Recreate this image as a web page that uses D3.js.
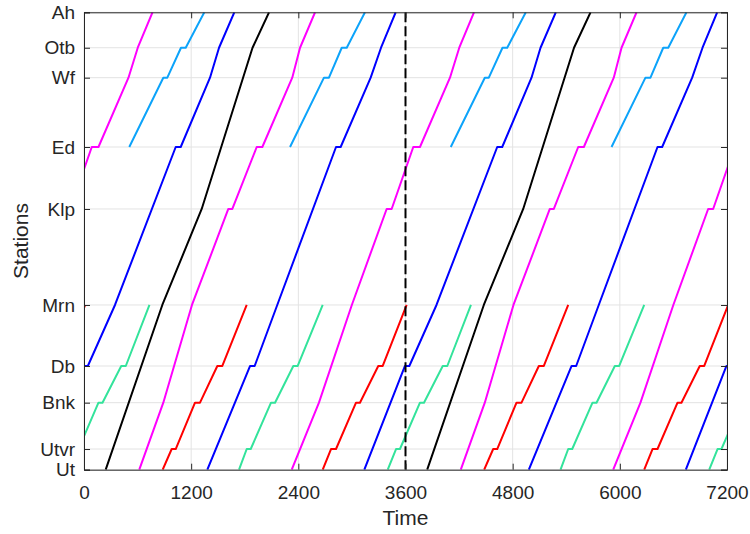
<!DOCTYPE html>
<html>
<head>
<meta charset="utf-8">
<script src="https://cdn.jsdelivr.net/npm/d3@7"></script>
<style>
  body { margin: 0; background: #fff; }
  text { font-family: "Liberation Sans", Arial, sans-serif; fill: #262626; }
</style>
</head>
<body>
<div id="chart"></div>
<script>
// stations (bottom to top) and their position along the line
const stations = ['Ut', 'Utvr', 'Bnk', 'Db', 'Mrn', 'Klp', 'Ed', 'Wf', 'Otb', 'Ah'];
const stationKm = [0, 2.79, 9.04, 13.99, 22.22, 35.17, 43.53, 52.88, 56.92, 61.7];
const timeTicks = [0, 1200, 2400, 3600, 4800, 6000, 7200];
const markerTime = 3600;

// each run: list of [station, time in s]; a station twice = dwell
const blackRuns = [
    [['Ut', 243], ['Mrn', 877], ['Klp', 1318], ['Otb', 1887], ['Ah', 2072]],
    [['Ut', 3843], ['Mrn', 4477], ['Klp', 4918], ['Otb', 5487], ['Ah', 5672]]
];
const magentaRuns = [
    [['Ut', -1274], ['Bnk', -969], ['Mrn', -601], ['Klp', -211], ['Klp', -155], ['Ed', 87], ['Ed', 162], ['Wf', 498], ['Otb', 602], ['Ah', 767]],
    [['Ut', 619], ['Bnk', 888], ['Mrn', 1209], ['Klp', 1616], ['Klp', 1661], ['Ed', 1934], ['Ed', 1997], ['Wf', 2332], ['Otb', 2419], ['Ah', 2587]],
    [['Ut', 2326], ['Bnk', 2631], ['Mrn', 2999], ['Klp', 3389], ['Klp', 3445], ['Ed', 3687], ['Ed', 3762], ['Wf', 4098], ['Otb', 4202], ['Ah', 4367]],
    [['Ut', 4219], ['Bnk', 4488], ['Mrn', 4809], ['Klp', 5216], ['Klp', 5261], ['Ed', 5534], ['Ed', 5597], ['Wf', 5932], ['Otb', 6019], ['Ah', 6187]],
    [['Ut', 5926], ['Bnk', 6231], ['Mrn', 6599], ['Klp', 6989], ['Klp', 7045], ['Ed', 7287], ['Ed', 7362], ['Wf', 7698], ['Otb', 7802], ['Ah', 7967]]
];
const lightBlueRuns = [
    [['Ed', 507], ['Wf', 888], ['Wf', 933], ['Otb', 1086], ['Otb', 1139], ['Ah', 1347]],
    [['Ed', 2307], ['Wf', 2687], ['Wf', 2743], ['Otb', 2886], ['Otb', 2942], ['Ah', 3146]],
    [['Ed', 4107], ['Wf', 4488], ['Wf', 4533], ['Otb', 4686], ['Otb', 4739], ['Ah', 4947]],
    [['Ed', 5907], ['Wf', 6287], ['Wf', 6343], ['Otb', 6486], ['Otb', 6542], ['Ah', 6746]]
];
const blueRuns = [
    [['Ut', -461], ['Db', -6], ['Db', 43], ['Mrn', 347], ['Ed', 1027], ['Ed', 1083], ['Wf', 1411], ['Otb', 1512], ['Ah', 1683]],
    [['Ut', 1381], ['Db', 1860], ['Db', 1911], ['Mrn', 2164], ['Ed', 2822], ['Ed', 2874], ['Wf', 3210], ['Otb', 3326], ['Ah', 3490]],
    [['Ut', 3139], ['Db', 3594], ['Db', 3643], ['Mrn', 3947], ['Ed', 4627], ['Ed', 4683], ['Wf', 5011], ['Otb', 5112], ['Ah', 5283]],
    [['Ut', 4981], ['Db', 5460], ['Db', 5511], ['Mrn', 5764], ['Ed', 6422], ['Ed', 6474], ['Wf', 6810], ['Otb', 6926], ['Ah', 7090]],
    [['Ut', 6739], ['Db', 7194], ['Db', 7243], ['Mrn', 7547], ['Ed', 8227], ['Ed', 8283]]
];
const redRuns = [
    [['Ut', -927], ['Utvr', -834], ['Utvr', -778], ['Bnk', -554], ['Bnk', -510], ['Db', -305], ['Db', -255], ['Mrn', 13]],
    [['Ut', 881], ['Utvr', 982], ['Utvr', 1027], ['Bnk', 1243], ['Bnk', 1299], ['Db', 1493], ['Db', 1549], ['Mrn', 1822]],
    [['Ut', 2673], ['Utvr', 2766], ['Utvr', 2822], ['Bnk', 3046], ['Bnk', 3090], ['Db', 3295], ['Db', 3345], ['Mrn', 3613]],
    [['Ut', 4481], ['Utvr', 4582], ['Utvr', 4627], ['Bnk', 4843], ['Bnk', 4899], ['Db', 5093], ['Db', 5149], ['Mrn', 5422]],
    [['Ut', 6273], ['Utvr', 6366], ['Utvr', 6422], ['Bnk', 6646], ['Bnk', 6690], ['Db', 6895], ['Db', 6945], ['Mrn', 7213]]
];
const tealRuns = [
    [['Ut', -199], ['Utvr', -106], ['Utvr', -62], ['Bnk', 162], ['Bnk', 207], ['Db', 417], ['Db', 468], ['Mrn', 733]],
    [['Ut', 1736], ['Utvr', 1822], ['Utvr', 1867], ['Bnk', 2094], ['Bnk', 2139], ['Db', 2344], ['Db', 2393], ['Mrn', 2673]],
    [['Ut', 3401], ['Utvr', 3494], ['Utvr', 3538], ['Bnk', 3762], ['Bnk', 3807], ['Db', 4017], ['Db', 4068], ['Mrn', 4333]],
    [['Ut', 5336], ['Utvr', 5422], ['Utvr', 5467], ['Bnk', 5694], ['Bnk', 5739], ['Db', 5944], ['Db', 5993], ['Mrn', 6273]],
    [['Ut', 7001], ['Utvr', 7094], ['Utvr', 7138], ['Bnk', 7362], ['Bnk', 7407], ['Db', 7617], ['Db', 7668], ['Mrn', 7933]]
];

const groups = [
    { runs: tealRuns, color: '#33e39b' },
    { runs: redRuns, color: '#ff0000' },
    { runs: lightBlueRuns, color: '#0ca3fa' },
    { runs: blackRuns, color: '#000000' },
    { runs: blueRuns, color: '#0000ff' },
    { runs: magentaRuns, color: '#ff00ff' }
];

const margin = { top: 12.3, left: 84 },
      width = 643,
      height = 457.4;

const svg = d3.select('#chart').append('svg')
    .attr('width', 750)
    .attr('height', 534);

const g = svg.append('g')
    .attr('transform', `translate(${margin.left},${margin.top})`);

const x = d3.scaleLinear().domain([0, 7200]).range([0, width]);
const y = d3.scaleLinear().domain([0, 61.7]).range([height, 0]);
const km = name => stationKm[stations.indexOf(name)];

// grid
g.append('g').selectAll('line')
    .data(timeTicks)
    .enter().append('line')
    .attr('x1', d => x(d)).attr('x2', d => x(d))
    .attr('y1', 0).attr('y2', height)
    .attr('stroke', '#e3e3e3');
g.append('g').selectAll('line')
    .data(stationKm)
    .enter().append('line')
    .attr('x1', 0).attr('x2', width)
    .attr('y1', d => y(d)).attr('y2', d => y(d))
    .attr('stroke', '#e3e3e3');

// train paths
svg.append('defs').append('clipPath').attr('id', 'plot')
    .append('rect').attr('width', width).attr('height', height);

const line = d3.line().x(d => x(d[1])).y(d => y(km(d[0])));
const plot = g.append('g').attr('clip-path', 'url(#plot)');

groups.forEach(grp => {
    plot.append('g').selectAll('path')
        .data(grp.runs)
        .enter().append('path')
        .attr('d', line)
        .attr('fill', 'none')
        .attr('stroke', grp.color)
        .attr('stroke-width', 2)
        .attr('stroke-linejoin', 'round');
});

// dashed marker
plot.append('line')
    .attr('x1', x(markerTime)).attr('x2', x(markerTime))
    .attr('y1', 0).attr('y2', height)
    .attr('stroke', '#000')
    .attr('stroke-width', 2)
    .attr('stroke-dasharray', '10,4');

// axes (ticks inward, box)
const axisColor = '#262626';
const xb = g.append('g').attr('transform', `translate(0,${height})`)
    .call(d3.axisBottom(x).tickValues(timeTicks).tickSize(-6).tickPadding(16).tickFormat(d3.format('d')));
const xt = g.append('g')
    .call(d3.axisTop(x).tickValues(timeTicks).tickSize(-6).tickFormat(''));
const yl = g.append('g')
    .call(d3.axisLeft(y).tickValues(stationKm).tickSize(-6).tickPadding(9).tickFormat((d, i) => stations[i]));
const yr = g.append('g').attr('transform', `translate(${width},0)`)
    .call(d3.axisRight(y).tickValues(stationKm).tickSize(-6).tickFormat(''));

[xb, xt, yl, yr].forEach(a => {
    a.selectAll('.domain').attr('stroke', axisColor);
    a.selectAll('.tick line').attr('stroke', axisColor);
    a.selectAll('text').style('font-size', '19px').attr('fill', axisColor)
        .style('font-family', '"Liberation Sans", Arial, sans-serif');
});

// axis labels
svg.append('text')
    .attr('x', margin.left + width / 2)
    .attr('y', 525)
    .attr('text-anchor', 'middle')
    .style('font-size', '21px')
    .text('Time');

svg.append('text')
    .attr('transform', `translate(28,${margin.top + height / 2}) rotate(-90)`)
    .attr('text-anchor', 'middle')
    .style('font-size', '21px')
    .text('Stations');
</script>
</body>
</html>
